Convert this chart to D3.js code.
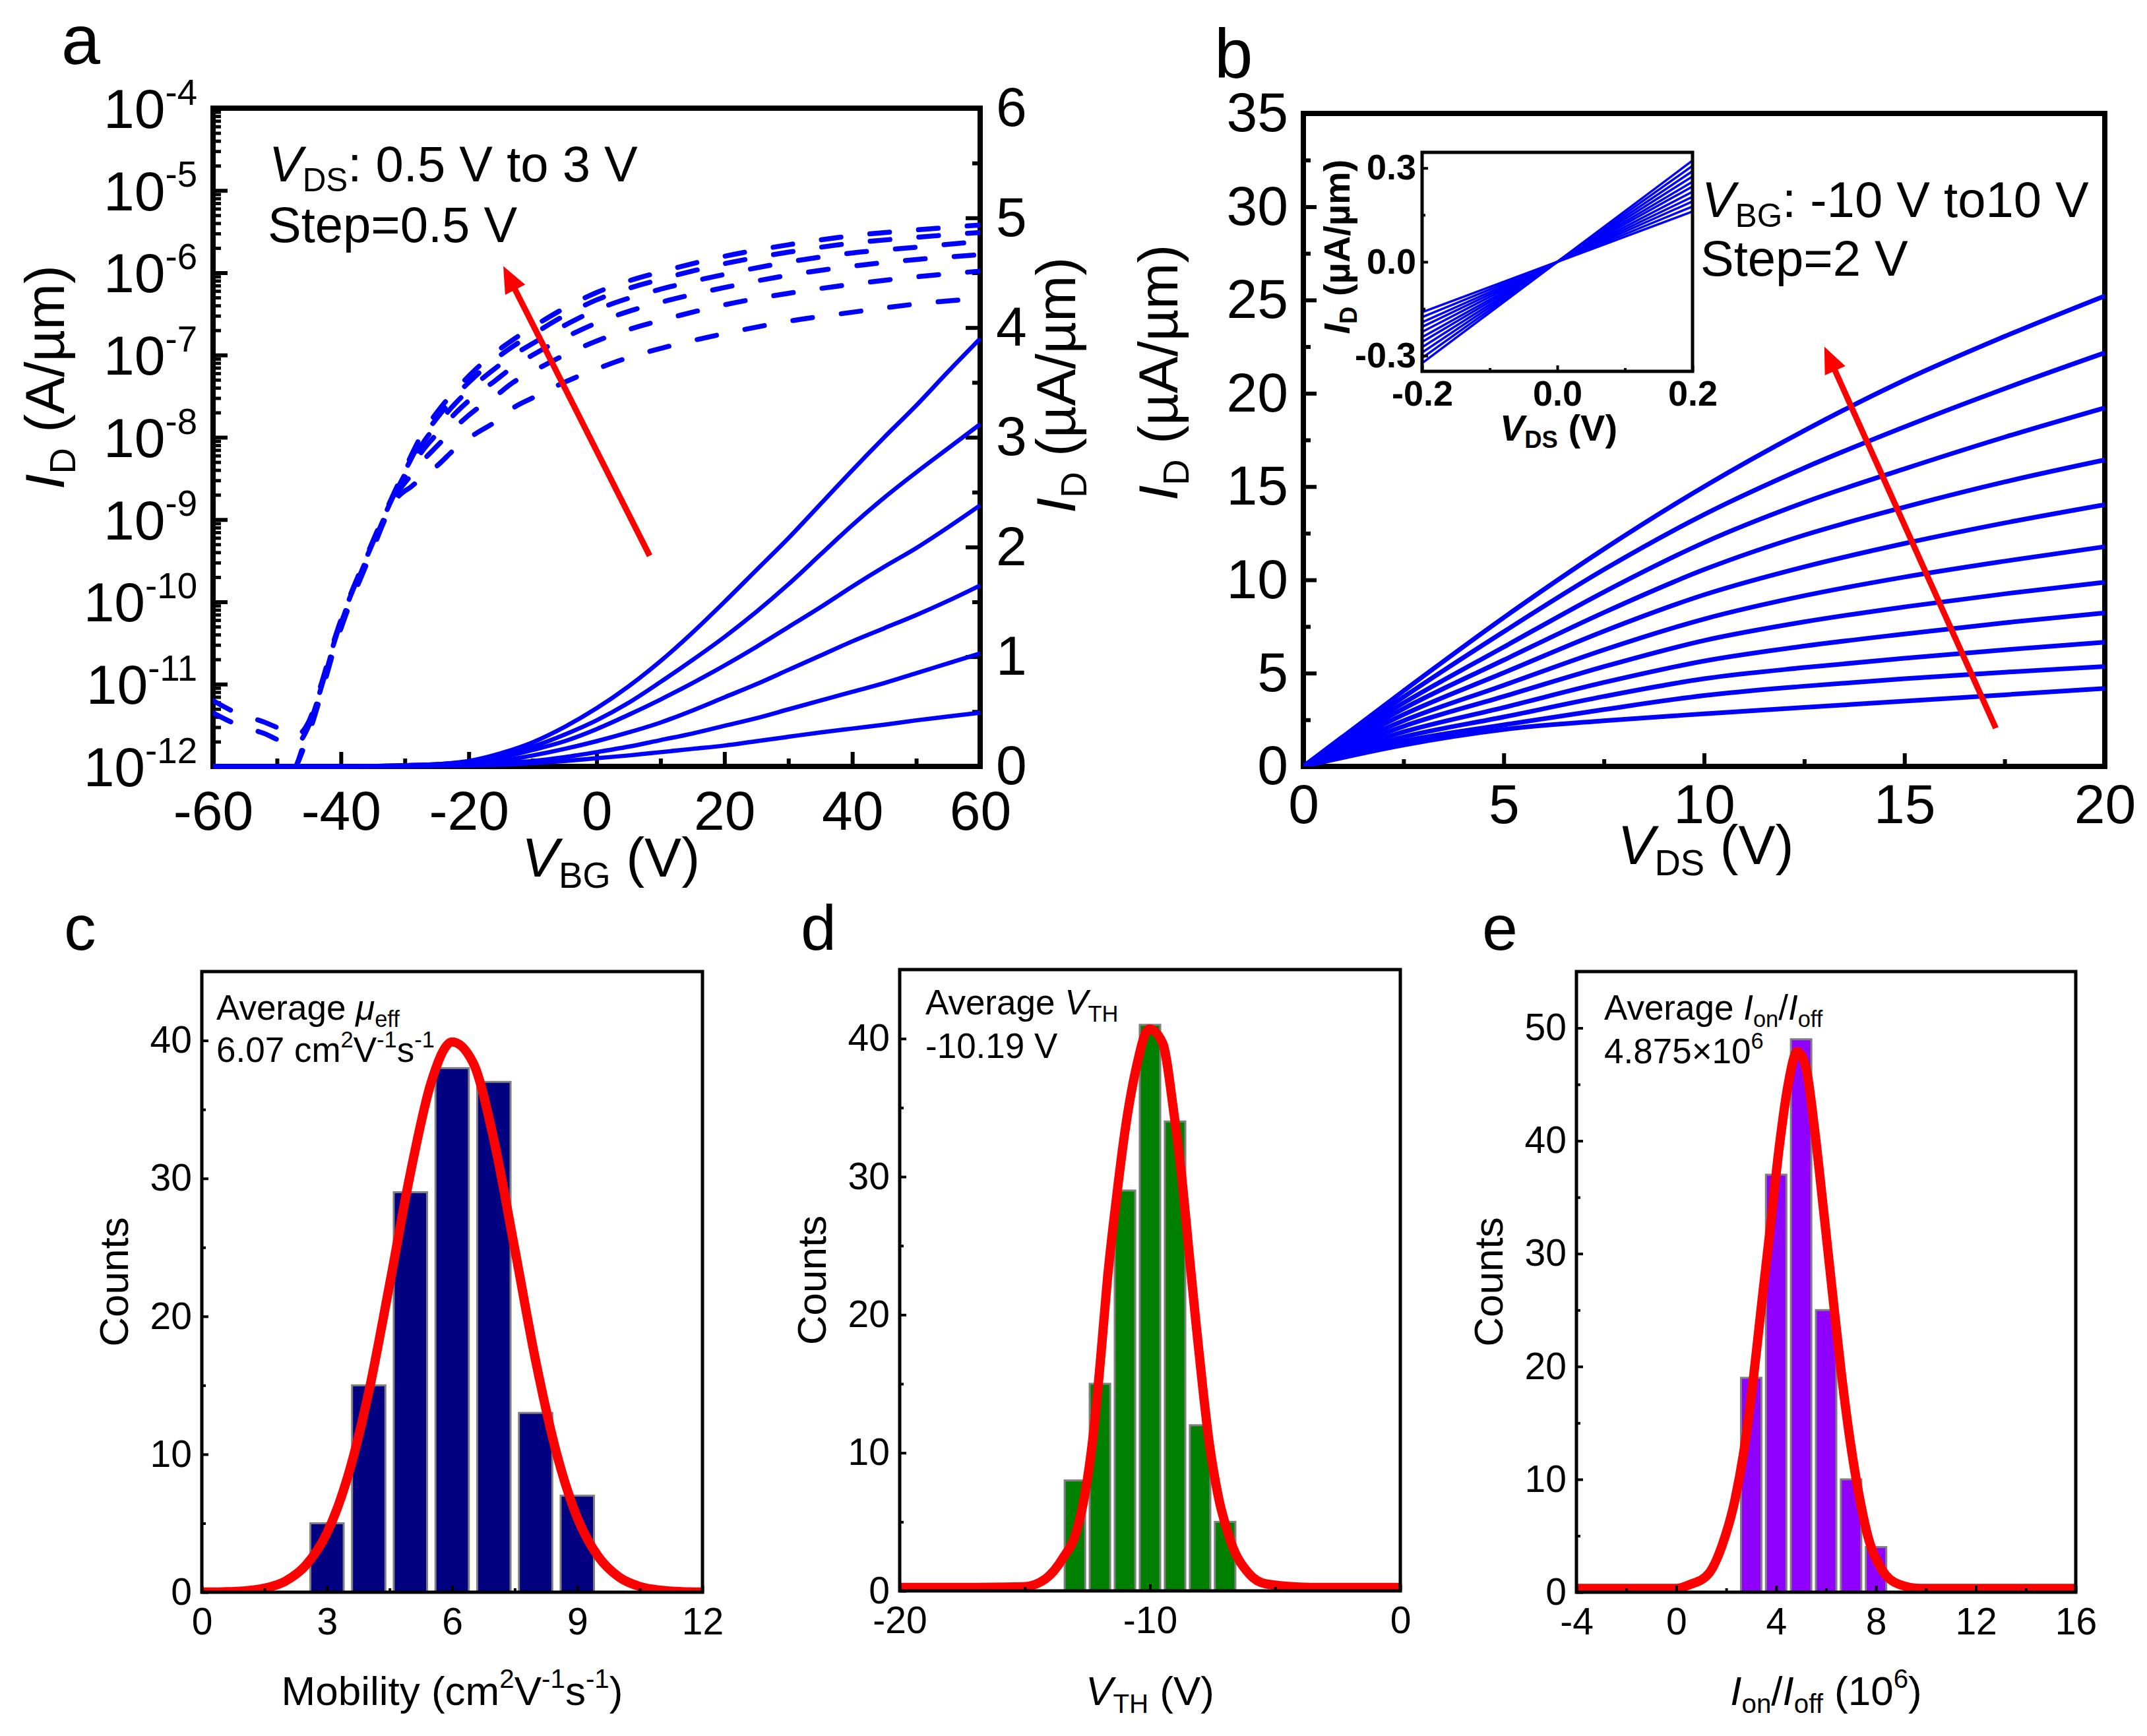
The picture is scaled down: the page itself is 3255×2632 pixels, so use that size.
<!DOCTYPE html>
<html>
<head>
<meta charset="utf-8">
<script src="https://cdn.jsdelivr.net/npm/d3@7"></script>
<style>
  body { margin: 0; background: #fff; }
  svg { display: block; }
</style>
</head>
<body>
<svg id="fig" width="3255" height="2632"></svg>
<script>
// ---------- panel a : transfer curves ----------
var vbgLin = [-60,-40,-30,-25,-20,-15,-10,-5,0,5,10,15,20,25,30,35,40,45,50,55,60];
var idLin05 = [0,0,0.002,0.004,0.008,0.015,0.03,0.05,0.075,0.10,0.13,0.16,0.19,0.23,0.27,0.31,0.345,0.38,0.42,0.455,0.49];
var idLin10 = [0,0,0.003,0.008,0.015,0.03,0.05,0.085,0.13,0.18,0.24,0.30,0.37,0.44,0.52,0.60,0.68,0.76,0.85,0.94,1.03];
var idLin15 = [0,0,0.005,0.01,0.025,0.05,0.10,0.16,0.23,0.31,0.40,0.51,0.63,0.75,0.88,1.01,1.14,1.26,1.38,1.51,1.65];
var idLin20 = [0,0,0.01,0.02,0.04,0.08,0.15,0.23,0.34,0.47,0.61,0.76,0.92,1.09,1.27,1.45,1.64,1.82,1.99,2.18,2.38];
var idLin25 = [0,0,0.01,0.02,0.04,0.10,0.18,0.29,0.42,0.58,0.77,0.97,1.18,1.41,1.66,1.93,2.20,2.45,2.68,2.90,3.12];
var idLin30 = [0,0,0.01,0.02,0.05,0.12,0.22,0.36,0.53,0.73,0.96,1.22,1.50,1.79,2.08,2.39,2.70,3.00,3.29,3.60,3.90];

var vbgLog = [-60,-56,-52,-49,-47,-45,-43,-41,-39,-37,-35,-33,-31,-29,-27,-25,-22,-19,-16,-13,-10,-5,0,5,10,20,30,40,50,60];
// log10 of I_D (A/um)
var logId30 = [-11.20,-11.36,-11.46,-11.56,-11.62,-11.45,-10.98,-10.45,-10.01,-9.63,-9.26,-8.90,-8.56,-8.22,-7.92,-7.70,-7.42,-7.18,-6.98,-6.81,-6.66,-6.43,-6.24,-6.10,-5.99,-5.80,-5.66,-5.55,-5.48,-5.42];
var logId25 = [-11.35,-11.50,-11.60,-11.70,-11.72,-11.50,-11.02,-10.48,-10.03,-9.65,-9.28,-8.92,-8.58,-8.26,-7.98,-7.77,-7.49,-7.26,-7.06,-6.89,-6.75,-6.52,-6.33,-6.19,-6.08,-5.89,-5.75,-5.64,-5.57,-5.51];
var logId20 = [-12.4,-12.4,-12.4,-12.3,-12.0,-11.52,-11.04,-10.50,-10.05,-9.67,-9.30,-8.94,-8.60,-8.31,-8.05,-7.85,-7.58,-7.36,-7.17,-7.00,-6.86,-6.64,-6.45,-6.31,-6.20,-6.02,-5.87,-5.76,-5.69,-5.62];
var logId15 = [-12.4,-12.4,-12.4,-12.3,-12.0,-11.55,-11.06,-10.52,-10.07,-9.69,-9.32,-8.95,-8.62,-8.37,-8.14,-7.96,-7.70,-7.49,-7.32,-7.14,-7.00,-6.79,-6.61,-6.47,-6.36,-6.18,-6.03,-5.92,-5.84,-5.78];
var logId10 = [-12.4,-12.4,-12.4,-12.3,-12.0,-11.58,-11.08,-10.54,-10.09,-9.71,-9.34,-8.97,-8.66,-8.46,-8.27,-8.11,-7.87,-7.67,-7.51,-7.33,-7.20,-7.00,-6.83,-6.69,-6.58,-6.39,-6.25,-6.14,-6.05,-5.98];
var logId05 = [-12.4,-12.4,-12.4,-12.3,-12.0,-11.60,-11.10,-10.56,-10.11,-9.73,-9.36,-8.98,-8.72,-8.60,-8.47,-8.35,-8.13,-7.96,-7.82,-7.64,-7.52,-7.33,-7.17,-7.03,-6.92,-6.74,-6.59,-6.48,-6.38,-6.31];

var decadeTicks = [1e-12,1e-11,1e-10,1e-9,1e-8,1e-7,1e-6,1e-5,1e-4];
var vbgTicks = [-60,-40,-20,0,20,40,60];
var vbgMinor = [-50,-30,-10,10,30,50];
var linTicksA = [0,1,2,3,4,5,6];
var linMinorA = [0.5,1.5,2.5,3.5,4.5,5.5];
var arrowA = [[8.3,1.92],[-14.6,4.56]];   // (V_BG, uA/um) tail -> tip

// ---------- panel b : output curves ----------
var vdsOut = [0,2.5,5,7.5,10,12.5,15,17.5,20];
var outM10 = [0,1.15,1.98,2.45,2.82,3.16,3.50,3.84,4.18];
var outM8  = [0,1.35,2.23,3.05,3.80,4.30,4.70,5.05,5.36];
var outM6  = [0,1.58,2.65,3.75,4.70,5.30,5.80,6.25,6.66];
var outM4  = [0,1.85,3.16,4.50,5.65,6.45,7.10,7.70,8.23];
var outM2  = [0,2.15,3.75,5.35,6.75,7.75,8.55,9.25,9.87];
var outP0  = [0,2.45,4.35,6.25,7.90,9.15,10.15,11.00,11.78];
var outP2  = [0,2.78,5.02,7.25,9.20,10.70,11.95,13.05,14.03];
var outP4  = [0,3.10,5.70,8.25,10.55,12.40,13.90,15.25,16.43];
var outP6  = [0,3.40,6.40,9.35,12.00,14.15,15.95,17.65,19.22];
var outP8  = [0,3.72,7.22,10.55,13.50,16.00,18.20,20.25,22.17];
var outP10 = [0,4.05,7.98,11.65,15.00,18.00,20.70,23.05,25.22];
var vdsTicks = [0,5,10,15,20];
var vdsMinor = [2.5,7.5,12.5,17.5];
var idTicksB = [0,5,10,15,20,25,30,35];
var idMinorB = [2.5,7.5,12.5,17.5,22.5,27.5,32.5];
var arrowB = [[17.28,2.05],[13.0,22.5]];

// inset
var vdsIn = [-0.2,0,0.2];
var inM10 = [-0.161,0,0.161];
var inM8  = [-0.177,0,0.177];
var inM6  = [-0.193,0,0.193];
var inM4  = [-0.208,0,0.208];
var inM2  = [-0.224,0,0.224];
var inP0  = [-0.241,0,0.241];
var inP2  = [-0.256,0,0.256];
var inP4  = [-0.273,0,0.273];
var inP6  = [-0.290,0,0.290];
var inP8  = [-0.307,0,0.307];
var inP10 = [-0.324,0,0.324];
var inXTicks = [-0.2,0,0.2];
var inXMinor = [-0.1,0.1];
var inYTicks = [-0.3,0,0.3];
var inYMinor = [-0.15,0.15];

// ---------- panels c, d, e : histograms ----------
var muCenters = [3,4,5,6,7,8,9];
var muCounts = [5,15,29,38,37,13,7];
var muFitX = [0,0.5,1,1.5,2,2.5,3,3.5,4,4.5,5,5.5,6,6.5,7,7.5,8,8.5,9,9.5,10,10.5,11,11.5,12];
var muFitY = [0.01,0.03,0.09,0.29,0.80,1.98,4.3,8.4,14.5,22.3,30.4,37.0,39.9,38.4,32.8,24.9,16.8,10.1,5.4,2.6,1.1,0.41,0.14,0.04,0.01];

var vthCenters = [-13,-12,-11,-10,-9,-8,-7];
var vthCounts = [8,15,29,41,34,12,5];
var vthFitX = [-20,-17,-15.06,-14.17,-13.47,-12.94,-12.5,-12.23,-11.97,-11.7,-11.35,-11.0,-10.56,-10.03,-9.5,-9.06,-8.7,-8.44,-8.17,-7.91,-7.64,-7.29,-6.76,-6.05,-5.35,-3.58,0];
var vthFitY = [0.25,0.25,0.3,0.88,2.4,4.3,8.1,11.9,16.9,22.6,28.3,33.3,37.8,40.7,39.7,34.8,29.4,24.5,19.5,15.0,10.8,7.0,3.5,1.26,0.5,0.25,0.25];

var onoffCenters = [3,4,5,6,7,8];
var onoffCounts = [19,37,49,25,10,4];
var onoffFitX = [-4,0,0.57,1.28,1.81,2.35,2.70,3.06,3.41,3.77,4.12,4.48,4.84,5.19,5.55,5.90,6.26,6.61,6.97,7.32,7.68,8.21,8.92,9.81,16];
var onoffFitY = [0.33,0.33,0.7,1.6,4.0,8.2,12.4,18.4,25.4,32.4,39.4,45.0,47.9,46.5,40.8,33.8,26.4,19.4,13.3,8.6,4.9,2.1,0.7,0.33,0.33];

// ===========================================================
var FONT = "'Liberation Sans', Arial, Helvetica, sans-serif";
var BLUE = "#0000ff", RED = "#ff0000";
var svg = d3.select("#fig");
var defs = svg.append("defs");

// append tspans; segments may be plain strings or {t, it, sub, sup}
function rich(sel, segs, size, base) {
  var cur = 0, first = true;
  segs.forEach(function(s) {
    if (typeof s === "string") s = {t: s};
    var small = s.sub || s.sup;
    var target = s.sub ? 0.2 * size : (s.sup ? -0.42 * size : 0);
    var ts = sel.append("tspan")
        .attr("font-size", small ? size * 0.65 : size)
        .attr("dy", target - cur + (first ? (base || 0) : 0))
        .text(s.t);
    if (s.it) ts.attr("font-style", "italic");
    cur = target;
    first = false;
  });
  return sel;
}

function label(x, y, segs, size, o) {
  o = o || {};
  var t = svg.append("text")
      .attr("font-family", FONT)
      .attr("font-size", size)
      .attr("font-weight", o.bold ? "bold" : "normal")
      .attr("text-anchor", o.anchor || "start")
      .attr("fill", "#000");
  if (o.rotate) t.attr("transform", "translate(" + x + "," + y + ") rotate(-90)");
  else t.attr("x", x).attr("y", y);
  return rich(t, segs, size);
}

function styleAxis(g, size, sw, bold) {
  g.select(".domain").remove();
  g.attr("font-family", null).attr("font-size", null);
  g.selectAll(".tick line").attr("stroke", "#000").attr("stroke-width", sw);
  g.selectAll(".tick text")
      .attr("font-family", FONT)
      .attr("font-size", size)
      .attr("font-weight", bold ? "bold" : "normal")
      .attr("fill", "#000");
}

function addAxis(gen, tx, ty, size, sw, bold) {
  return svg.append("g")
      .attr("transform", "translate(" + tx + "," + ty + ")")
      .call(gen)
      .call(function(g) { styleAxis(g, size, sw, bold); });
}

function frame(x0, y0, x1, y1, sw) {
  svg.append("rect")
      .attr("x", x0).attr("y", y0)
      .attr("width", x1 - x0).attr("height", y1 - y0)
      .attr("fill", "none").attr("stroke", "#000").attr("stroke-width", sw);
}

function clip(id, x0, y0, x1, y1) {
  defs.append("clipPath").attr("id", id).append("rect")
      .attr("x", x0).attr("y", y0).attr("width", x1 - x0).attr("height", y1 - y0);
  return "url(#" + id + ")";
}

function arrow(p0, p1, sw, headL, headW) {
  var dx = p1[0] - p0[0], dy = p1[1] - p0[1];
  var L = Math.sqrt(dx * dx + dy * dy), ux = dx / L, uy = dy / L;
  var bx = p1[0] - ux * headL, by = p1[1] - uy * headL;
  svg.append("line")
      .attr("x1", p0[0]).attr("y1", p0[1])
      .attr("x2", bx + ux * 2).attr("y2", by + uy * 2)
      .attr("stroke", RED).attr("stroke-width", sw);
  svg.append("polygon")
      .attr("points", [[p1[0], p1[1]], [bx - uy * headW, by + ux * headW], [bx + uy * headW, by - ux * headW]].join(" "))
      .attr("fill", RED);
}

var str = function(d) { return String(d); };

// ================= panel a =================
var aL = 323, aR = 1486, aT = 164, aB = 1162;
var xA = d3.scaleLinear().domain([-60, 60]).range([aL, aR]);
var yAlog = d3.scaleLog().domain([1e-12, 1e-4]).range([aB, aT]);
var yAlin = d3.scaleLinear().domain([0, 6]).range([aB, aT]);

frame(aL, aT, aR, aB, 8);

addAxis(d3.axisBottom(xA).tickValues(vbgTicks).tickFormat(str).tickSizeInner(-22).tickSizeOuter(0).tickPadding(36), 0, aB, 84, 6);
addAxis(d3.axisBottom(xA).tickValues(vbgMinor).tickFormat("").tickSizeInner(-12).tickSizeOuter(0), 0, aB, 84, 6);

var logMinor = [];
for (var e = -12; e < -4; e++) for (var k = 2; k < 10; k++) logMinor.push(k * Math.pow(10, e));

addAxis(d3.axisLeft(yAlog).tickValues(decadeTicks).tickFormat(function() { return ""; })
    .tickSizeInner(-22).tickSizeOuter(0).tickPadding(24), aL, 0, 84, 6)
  .selectAll(".tick text").each(function(d) {
    var t = d3.select(this).attr("dy", null);
    rich(t, ["10", {t: String(Math.round(Math.log10(d))), sup: true}], 84, 0.35 * 84);
  });
addAxis(d3.axisLeft(yAlog).tickValues(logMinor).tickFormat(function() { return ""; }).tickSizeInner(-12).tickSizeOuter(0), aL, 0, 84, 5);

addAxis(d3.axisRight(yAlin).tickValues(linTicksA).tickFormat(str).tickSizeInner(-22).tickSizeOuter(0).tickPadding(24), aR, 0, 84, 6);
addAxis(d3.axisRight(yAlin).tickValues(linMinorA).tickFormat("").tickSizeInner(-12).tickSizeOuter(0), aR, 0, 84, 6);

var clipA = clip("clipA", aL, aT, aR, aB + 2);

var dashLine = d3.line()
    .x(function(d, i) { return xA(vbgLog[i]); })
    .y(function(d) { return yAlog(Math.pow(10, d)); })
    .curve(d3.curveMonotoneX);
svg.append("g").attr("clip-path", clipA)
  .selectAll("path").data([logId05, logId10, logId15, logId20, logId25, logId30]).join("path")
    .attr("d", dashLine)
    .attr("fill", "none").attr("stroke", BLUE).attr("stroke-width", 7.5)
    .attr("stroke-dasharray", "30 44").attr("stroke-linecap", "round");

var solidLine = d3.line()
    .x(function(d, i) { return xA(vbgLin[i]); })
    .y(function(d) { return yAlin(d); })
    .curve(d3.curveMonotoneX);
svg.append("g")
  .selectAll("path").data([idLin05, idLin10, idLin15, idLin20, idLin25, idLin30]).join("path")
    .attr("d", solidLine)
    .attr("fill", "none").attr("stroke", BLUE).attr("stroke-width", 6.5).attr("stroke-linejoin", "round");

arrow([xA(arrowA[0][0]), yAlin(arrowA[0][1])], [xA(arrowA[1][0]), yAlin(arrowA[1][1])], 9, 40, 17);

label(408, 275, [{t: "V", it: true}, {t: "DS", sub: true}, ": 0.5 V to 3 V"], 76);
label(406, 367, ["Step=0.5 V"], 76);
label(926, 1329, [{t: "V", it: true}, {t: "BG", sub: true}, " (V)"], 84, {anchor: "middle"});
label(97, 572, [{t: "I", it: true}, {t: "D", sub: true}, " (A/\u00b5m)"], 84, {anchor: "middle", rotate: true});
label(1630, 584, [{t: "I", it: true}, {t: "D", sub: true}, " (\u00b5A/\u00b5m)"], 84, {anchor: "middle", rotate: true});
label(93, 97, ["a"], 106);

// ================= panel b =================
var bL = 1976, bR = 3191, bT = 172, bB = 1162;
var xB = d3.scaleLinear().domain([0, 20]).range([bL, bR]);
var yB = d3.scaleLinear().domain([0, 35]).range([bB, bT]);

frame(bL, bT, bR, bB, 8);
addAxis(d3.axisBottom(xB).tickValues(vdsTicks).tickFormat(str).tickSizeInner(-20).tickSizeOuter(0).tickPadding(26), 0, bB, 84, 6);
addAxis(d3.axisBottom(xB).tickValues(vdsMinor).tickFormat("").tickSizeInner(-11).tickSizeOuter(0), 0, bB, 84, 6);
addAxis(d3.axisLeft(yB).tickValues(idTicksB).tickFormat(str).tickSizeInner(-20).tickSizeOuter(0).tickPadding(23), bL, 0, 84, 6);
addAxis(d3.axisLeft(yB).tickValues(idMinorB).tickFormat("").tickSizeInner(-11).tickSizeOuter(0), bL, 0, 84, 6);

var outLine = d3.line()
    .x(function(d, i) { return xB(vdsOut[i]); })
    .y(function(d) { return yB(d); })
    .curve(d3.curveMonotoneX);
svg.append("g").attr("clip-path", clip("clipB", bL, bT, bR + 4, bB))
  .selectAll("path").data([outM10, outM8, outM6, outM4, outM2, outP0, outP2, outP4, outP6, outP8, outP10]).join("path")
    .attr("d", outLine)
    .attr("fill", "none").attr("stroke", BLUE).attr("stroke-width", 7).attr("stroke-linejoin", "round");

arrow([xB(arrowB[0][0]), yB(arrowB[0][1])], [xB(arrowB[1][0]), yB(arrowB[1][1])], 9, 40, 17);

label(2580, 329, [{t: "V", it: true}, {t: "BG", sub: true}, ": -10 V to10 V"], 76);
label(2578, 418, ["Step=2 V"], 76);
label(2586, 1310, [{t: "V", it: true}, {t: "DS", sub: true}, " (V)"], 84, {anchor: "middle"});
label(1785, 565, [{t: "I", it: true}, {t: "D", sub: true}, " (\u00b5A/\u00b5m)"], 84, {anchor: "middle", rotate: true});
label(1841, 118, ["b"], 105);

// inset
var iL = 2156, iR = 2566, iT = 231, iB = 563;
var xI = d3.scaleLinear().domain([-0.2, 0.2]).range([iL, iR]);
var yI = d3.scaleLinear().domain([-0.35, 0.35]).range([iB, iT]);
svg.append("rect").attr("x", iL).attr("y", iT).attr("width", iR - iL).attr("height", iB - iT).attr("fill", "#fff");
var inLine = d3.line()
    .x(function(d, i) { return xI(vdsIn[i]); })
    .y(function(d) { return yI(d); });
svg.append("g")
  .selectAll("path").data([inM10, inM8, inM6, inM4, inM2, inP0, inP2, inP4, inP6, inP8, inP10]).join("path")
    .attr("d", inLine)
    .attr("fill", "none").attr("stroke", BLUE).attr("stroke-width", 3.5);
frame(iL, iT, iR, iB, 5);
var fmt1 = function(d) { return d.toFixed(1); };
addAxis(d3.axisBottom(xI).tickValues(inXTicks).tickFormat(fmt1).tickSizeInner(-9).tickSizeOuter(0).tickPadding(14), 0, iB, 54, 4, true);
addAxis(d3.axisBottom(xI).tickValues(inXMinor).tickFormat("").tickSizeInner(-5).tickSizeOuter(0), 0, iB, 54, 4);
addAxis(d3.axisLeft(yI).tickValues(inYTicks).tickFormat(fmt1).tickSizeInner(-9).tickSizeOuter(0).tickPadding(9), iL, 0, 54, 4, true);
addAxis(d3.axisLeft(yI).tickValues(inYMinor).tickFormat("").tickSizeInner(-5).tickSizeOuter(0), iL, 0, 54, 4);
label(2363, 668, [{t: "V", it: true}, {t: "DS", sub: true}, " (V)"], 56, {anchor: "middle", bold: true});
label(2046, 374, [{t: "I", it: true}, {t: "D", sub: true}, " (\u00b5A/\u00b5m)"], 56, {anchor: "middle", rotate: true, bold: true});

// ================= histograms =================
function histPanel(p) {
  var x = d3.scaleLinear().domain(p.xDom).range([p.left, p.right]);
  var y = d3.scaleLinear().domain(p.yDom).range([p.bottom, p.top]);
  var g = svg.append("g");
  g.selectAll("rect").data(p.centers).join("rect")
      .attr("x", function(d) { return x(d - p.barW / 2); })
      .attr("width", x(p.xDom[0] + p.barW) - x(p.xDom[0]))
      .attr("y", function(d, i) { return y(p.counts[i]); })
      .attr("height", function(d, i) { return y(0) - y(p.counts[i]); })
      .attr("fill", p.fill).attr("stroke", "#808080").attr("stroke-width", 3);
  var fit = d3.line()
      .x(function(d, i) { return x(p.fitX[i]); })
      .y(function(d) { return y(d); })
      .curve(d3.curveMonotoneX);
  svg.append("path").attr("clip-path", clip(p.id, p.left, p.top, p.right, p.bottom))
      .attr("d", fit(p.fitY))
      .attr("fill", "none").attr("stroke", RED).attr("stroke-width", 14).attr("stroke-linejoin", "round");
  frame(p.left, p.top, p.right, p.bottom, 5);
  addAxis(d3.axisBottom(x).tickValues(p.xTicks).tickFormat(str).tickSizeInner(-10).tickSizeOuter(0).tickPadding(24), 0, p.bottom, 57, 4);
  addAxis(d3.axisBottom(x).tickValues(p.xMinor).tickFormat("").tickSizeInner(-6).tickSizeOuter(0), 0, p.bottom, 57, 4);
  addAxis(d3.axisLeft(y).tickValues(p.yTicks).tickFormat(str).tickSizeInner(-10).tickSizeOuter(0).tickPadding(15), p.left, 0, 57, 4);
  addAxis(d3.axisLeft(y).tickValues(p.yMinor).tickFormat("").tickSizeInner(-6).tickSizeOuter(0), p.left, 0, 57, 4);
  label(p.noteX, p.noteY[0], p.note1, 53);
  label(p.noteX, p.noteY[1], p.note2, 53);
  label((p.left + p.right) / 2, 2585, p.xTitle, 62, {anchor: "middle"});
  label(p.left - 112, (p.top + p.bottom) / 2, ["Counts"], 62, {anchor: "middle", rotate: true});
  label(p.labelX, 1440, [p.label], 97);
}

histPanel({
  id: "clipC", left: 306, right: 1065, top: 1473, bottom: 2414,
  xDom: [0, 12], yDom: [0, 45],
  xTicks: [0,3,6,9,12], xMinor: [1.5,4.5,7.5,10.5],
  yTicks: [0,10,20,30,40], yMinor: [5,15,25,35],
  centers: muCenters, counts: muCounts, barW: 0.8, fill: "#000080",
  fitX: muFitX, fitY: muFitY,
  noteX: 328, noteY: [1546, 1610],
  note1: ["Average ", {t: "\u03bc", it: true}, {t: "eff", sub: true}],
  note2: ["6.07 cm", {t: "2", sup: true}, "V", {t: "-1", sup: true}, "s", {t: "-1", sup: true}],
  xTitle: ["Mobility (cm", {t: "2", sup: true}, "V", {t: "-1", sup: true}, "s", {t: "-1", sup: true}, ")"],
  label: "c", labelX: 97
});

histPanel({
  id: "clipD", left: 1364, right: 2123, top: 1470, bottom: 2412,
  xDom: [-20, 0], yDom: [0, 45],
  xTicks: [-20,-10,0], xMinor: [-15,-5],
  yTicks: [0,10,20,30,40], yMinor: [5,15,25,35],
  centers: vthCenters, counts: vthCounts, barW: 0.82, fill: "#008000",
  fitX: vthFitX, fitY: vthFitY,
  noteX: 1403, noteY: [1538, 1604],
  note1: ["Average ", {t: "V", it: true}, {t: "TH", sub: true}],
  note2: ["-10.19 V"],
  xTitle: [{t: "V", it: true}, {t: "TH", sub: true}, " (V)"],
  label: "d", labelX: 1214
});

histPanel({
  id: "clipE", left: 2390, right: 3147, top: 1473, bottom: 2414,
  xDom: [-4, 16], yDom: [0, 55],
  xTicks: [-4,0,4,8,12,16], xMinor: [-2,2,6,10,14],
  yTicks: [0,10,20,30,40,50], yMinor: [5,15,25,35,45],
  centers: onoffCenters, counts: onoffCounts, barW: 0.82, fill: "#8f00ff",
  fitX: onoffFitX, fitY: onoffFitY,
  noteX: 2432, noteY: [1546, 1612],
  note1: ["Average ", {t: "I", it: true}, {t: "on", sub: true}, "/", {t: "I", it: true}, {t: "off", sub: true}],
  note2: ["4.875\u00d710", {t: "6", sup: true}],
  xTitle: [{t: "I", it: true}, {t: "on", sub: true}, "/", {t: "I", it: true}, {t: "off", sub: true}, " (10", {t: "6", sup: true}, ")"],
  label: "e", labelX: 2247
});
</script>
</body>
</html>
